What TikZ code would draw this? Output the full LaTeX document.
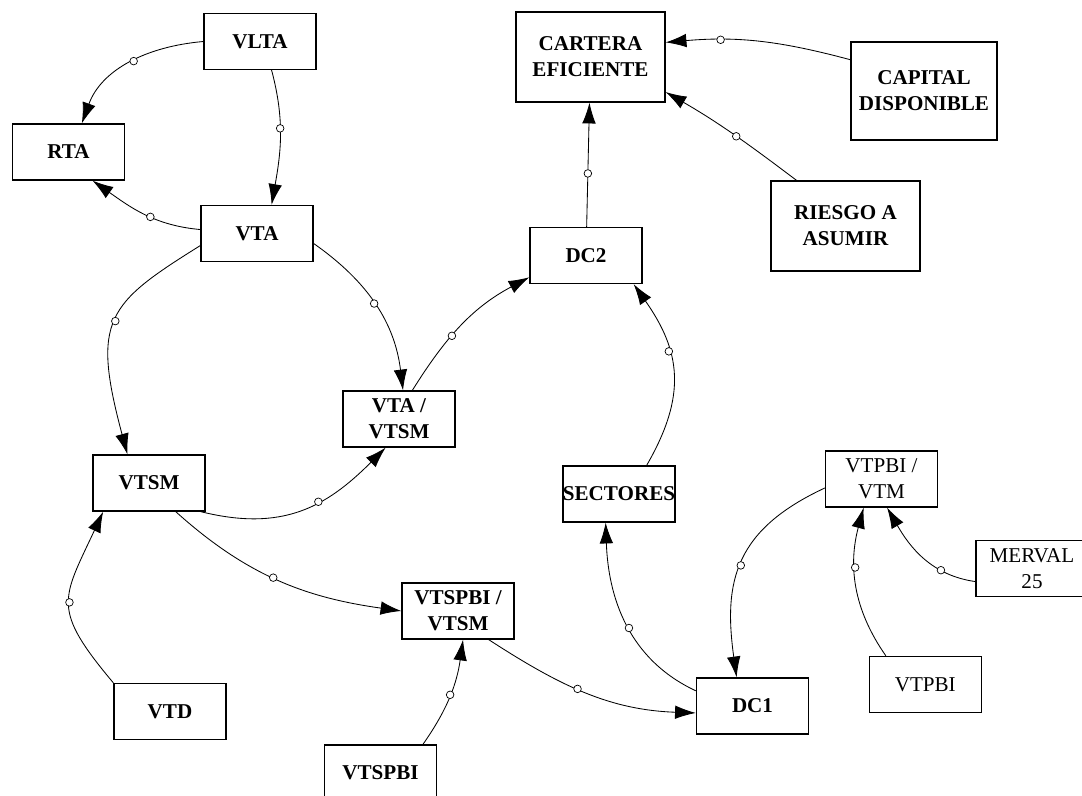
\documentclass[tikz,border=0pt]{standalone}
\usepackage{fontspec}
\setmainfont{Liberation Serif}
\usetikzlibrary{arrows.meta}

\begin{document}
\begin{tikzpicture}[
    x=0.25mm, y=0.25mm,
    box/.style={draw, line width=0.9pt, align=center, minimum width=28mm,
                minimum height=14mm, inner sep=0pt,
                font=\fontsize{15}{18.5}\selectfont\bfseries},
    bigbox/.style={box, minimum width=37.25mm, minimum height=22.5mm},
    thinbox/.style={box, font=\fontsize{15}{18.5}\selectfont},
    dot/.style={circle, draw, fill=white, line width=0.5pt, inner sep=0pt,
                minimum size=1.9mm},
    arrow/.style={-{Latex[length=5.2mm,width=3.4mm]}, line width=0.6pt}
  ]
    \clip (0,0) rectangle (1082,-796);
    \node[box] (vlta) at (260,-41.5) {VLTA};
    \node[box] (rta) at (68.5,-152) {RTA};
    \node[box] (vta) at (257,-233.5) {VTA};
    \node[bigbox] (cartera) at (590.5,-57) {CARTERA\\EFICIENTE};
    \node[box] (dc2) at (586,-255.5) {DC2};
    \node[bigbox, minimum width=36.5mm, minimum height=24.5mm] (capital)
      at (924,-91) {CAPITAL\\DISPONIBLE};
    \node[bigbox] (riesgo) at (845.5,-226) {RIESGO A\\ASUMIR};
    \node[box] (vtavtsm) at (399,-419) {VTA /\\VTSM};
    \node[box] (vtsm) at (149,-483) {VTSM};
    \node[box] (sectores) at (619,-494) {SECTORES};
    \node[thinbox] (vtpbivtm) at (881.5,-479) {VTPBI /\\VTM};
    \node[thinbox] (merval) at (1032,-568.5) {MERVAL\\25};
    \node[thinbox] (vtpbi) at (925.3,-684.5) {VTPBI};
    \node[box] (vtd) at (170,-711.5) {VTD};
    \node[box] (vtspbivtsm) at (458,-611) {VTSPBI /\\VTSM};
    \node[box] (vtspbi) at (380.5,-773) {VTSPBI};
    \node[box] (dc1) at (752.5,-706) {DC1};

    \draw[arrow] (vlta.west) to[out=185,in=70] node[dot,pos=0.46]{} (rta.65);
    \draw[arrow] (vlta.292) to[out=285,in=80] node[dot,pos=0.43]{} (vta.63);
    \draw[arrow] (vta.176) to[out=175,in=-35] node[dot,pos=0.43]{} (rta.310);
    \draw[arrow] (vta.192) to[out=212,in=105,out distance=27.5mm,in distance=35mm]
      node[dot,pos=0.5]{} (vtsm.127);
    \draw[arrow] (vta.350) to[out=-35,in=97] node[dot,pos=0.48]{} (vtavtsm.82);
    \draw[arrow] (vtsm.331) to[out=-14,in=225,looseness=1.1] node[dot,pos=0.6]{} (vtavtsm.245);
    \draw[arrow] (vtavtsm.65) to[out=58,in=208] node[dot,pos=0.4]{} (dc2.201);
    \draw[arrow] (sectores.46) to[out=60,in=-55,looseness=1.15] node[dot,pos=0.63]{} (dc2.329);
    \draw[arrow] (dc2) -- node[dot,pos=0.43]{} (cartera);
    \draw[arrow] (capital.157) to[out=165,in=5] node[dot,pos=0.72]{} (cartera.11);
    \draw[arrow] (riesgo.137) to[out=143,in=-30] node[dot,pos=0.47]{} (cartera.335);
    \draw[arrow] (vtsm.313) to[out=-42,in=172] node[dot,pos=0.47]{} (vtspbivtsm.west);
    \draw[arrow] (vtd.north west) to[out=130,in=245,looseness=1.45] node[dot,pos=0.5]{} (vtsm.212);
    \draw[arrow] (vtspbi.34) to[out=55,in=-98] node[dot,pos=0.5]{} (vtspbivtsm.280);
    \draw[arrow] (vtspbivtsm.317) to[out=-33,in=178] node[dot,pos=0.45]{} (dc1.187);
    \draw[arrow] (dc1.165) to[out=155,in=-88] node[dot,pos=0.47]{} (sectores.245);
    \draw[arrow] (vtpbivtm.189) to[out=205,in=98,looseness=1.2] node[dot,pos=0.52]{} (dc1.119);
    \draw[arrow] (vtpbi.144) to[out=125,in=-105] node[dot,pos=0.62]{} (vtpbivtm.238);
    \draw[arrow] (merval.193) to[out=172,in=-60] node[dot,pos=0.3]{} (vtpbivtm.281);
  \end{tikzpicture}
\end{document}
